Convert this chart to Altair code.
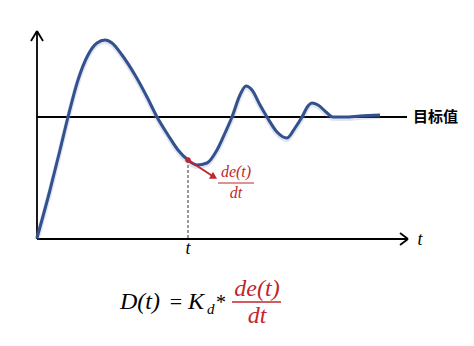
import altair as alt
import pandas as pd

# Response curve (screen-space units of the diagram, y grows downward)
curve_x = [37, 50, 60, 68, 78, 88, 97, 105, 112, 122, 135, 147, 157, 168, 178, 188, 197, 207,
           217, 225, 232, 240, 246, 252, 260, 267, 277, 287, 295, 302, 308, 312, 318, 326, 333,
           345, 360, 380]
curve_y = [238, 190, 150, 117, 80, 55, 43, 40, 43, 55, 75, 97, 117, 135, 150, 160, 165, 163,
           150, 133, 117, 95, 86, 90, 105, 117, 132, 138, 128, 117, 106, 103, 105, 112, 117,
           117, 116, 115]

# Straight segments: axes, target line, arrow chevrons
seg_name = ["yaxis", "xaxis", "target", "ya1", "ya2", "xa1", "xa2"]
seg_x1 = [37, 37, 37, 31, 43, 400, 400]
seg_y1 = [239, 239, 117, 41, 41, 233, 245]
seg_x2 = [37, 408, 407, 37, 37, 408, 408]
seg_y2 = [31, 239, 117, 31, 31, 239, 239]

# Marked time t on the curve
t_x = [188]
t_y = [160]
arrow_x2 = [214]
arrow_y2 = [177]

W, H = 474, 346
xs = alt.Scale(domain=[0, W])
ys = alt.Scale(domain=[0, H], reverse=True)
X = lambda f: alt.X(f, type="quantitative", scale=xs, axis=None)
Y = lambda f: alt.Y(f, type="quantitative", scale=ys, axis=None)

curve = pd.DataFrame({"x": curve_x, "y": curve_y})
segs = pd.DataFrame({"name": seg_name, "x": seg_x1, "y": seg_y1, "x2": seg_x2, "y2": seg_y2})
pt = pd.DataFrame({"x": t_x, "y": t_y, "x2": arrow_x2, "y2": arrow_y2, "base": [239]})

BLUE = "#33508f"
RED = "#c0272d"

shadow = alt.Chart(curve.assign(y=curve.y + 1.5)).mark_line(
    interpolate="monotone", stroke="#8899bb", strokeWidth=5, opacity=0.25
).encode(x=X("x"), y=Y("y"))

line = alt.Chart(curve).mark_line(
    interpolate="monotone", stroke=BLUE, strokeWidth=3
).encode(x=X("x"), y=Y("y"))

rules = alt.Chart(segs).mark_rule(color="black", strokeWidth=1.8).encode(
    x=X("x"), y=Y("y"), x2="x2", y2="y2"
)

dashed = alt.Chart(pt).mark_rule(color="#333", strokeWidth=1, strokeDash=[3, 2]).encode(
    x=X("x"), y=Y("y"), y2="base"
)

red_arrow = alt.Chart(pt).mark_rule(color=RED, strokeWidth=2).encode(
    x=X("x"), y=Y("y"), x2="x2", y2="y2"
)
red_head = alt.Chart(pt).mark_point(
    shape="triangle-right", filled=True, color=RED, size=65, angle=30, opacity=1
).encode(x=X("x2"), y=Y("y2"))
red_dot = alt.Chart(pt).mark_point(filled=True, color=RED, size=30, opacity=1).encode(
    x=X("x"), y=Y("y")
)

# Text annotations
lbl = pd.DataFrame({
    "x": [413, 420, 188],
    "y": [117, 240, 249],
    "text": ["目标值", "t", "t"],
})
target_lbl = alt.Chart(lbl.iloc[[0]]).mark_text(
    align="left", baseline="middle", font="Noto Sans CJK SC", fontWeight="bold",
    fontSize=15, color="black"
).encode(x=X("x"), y=Y("y"), text="text")
t_lbls = alt.Chart(lbl.iloc[[1, 2]]).mark_text(
    align="center", baseline="middle", font="Liberation Serif", fontStyle="italic",
    fontSize=18, color="black"
).encode(x=X("x"), y=Y("y"), text="text")

# small fraction de(t)/dt near the arrow
frac_small = pd.DataFrame({"x": [236, 236], "y": [172, 193], "text": ["de(t)", "dt"]})
frac_small_t = alt.Chart(frac_small).mark_text(
    align="center", baseline="middle", font="Liberation Serif", fontStyle="italic",
    fontSize=16, color=RED
).encode(x=X("x"), y=Y("y"), text="text")
frac_small_bar = pd.DataFrame({"x": [218], "x2": [254], "y": [183]})
frac_small_b = alt.Chart(frac_small_bar).mark_rule(color=RED, strokeWidth=1.2).encode(
    x=X("x"), x2="x2", y=Y("y")
)

# formula D(t) = K_d * de(t)/dt
f_black = pd.DataFrame({"x": [120, 188], "y": [302, 302], "text": ["D(t)", "K"]})
f_black_t = alt.Chart(f_black).mark_text(
    align="left", baseline="middle", font="Liberation Serif", fontStyle="italic",
    fontSize=24, color="black"
).encode(x=X("x"), y=Y("y"), text="text")
f_eq = pd.DataFrame({"x": [176], "y": [302], "text": ["="]})
f_eq_t = alt.Chart(f_eq).mark_text(
    align="center", baseline="middle", font="Liberation Serif",
    fontSize=22, color="black"
).encode(x=X("x"), y=Y("y"), text="text")
f_sub = pd.DataFrame({"x": [207], "y": [309], "text": ["d"]})
f_sub_t = alt.Chart(f_sub).mark_text(
    align="left", baseline="middle", font="Liberation Serif", fontStyle="italic",
    fontSize=15, color="black"
).encode(x=X("x"), y=Y("y"), text="text")
f_star = pd.DataFrame({"x": [216], "y": [303], "text": ["*"]})
f_star_t = alt.Chart(f_star).mark_text(
    align="left", baseline="middle", font="Liberation Serif",
    fontSize=20, color="black"
).encode(x=X("x"), y=Y("y"), text="text")
f_frac = pd.DataFrame({"x": [257, 257], "y": [289, 316], "text": ["de(t)", "dt"]})
f_frac_t = alt.Chart(f_frac).mark_text(
    align="center", baseline="middle", font="Liberation Serif", fontStyle="italic",
    fontSize=24, color=RED
).encode(x=X("x"), y=Y("y"), text="text")
f_bar = pd.DataFrame({"x": [232], "x2": [281], "y": [302]})
f_bar_r = alt.Chart(f_bar).mark_rule(color=RED, strokeWidth=1.5).encode(
    x=X("x"), x2="x2", y=Y("y")
)

chart = alt.layer(
    rules, dashed, shadow, line, red_arrow, red_head, red_dot,
    target_lbl, t_lbls, frac_small_t, frac_small_b,
    f_black_t, f_eq_t, f_sub_t, f_star_t, f_frac_t, f_bar_r
).properties(
    width=W, height=H, padding=0, autosize=alt.AutoSizeParams(type="none"),
    background="white"
).configure_view(stroke=None)

chart.save("out.html", embed_options={"renderer": "svg", "actions": False})
